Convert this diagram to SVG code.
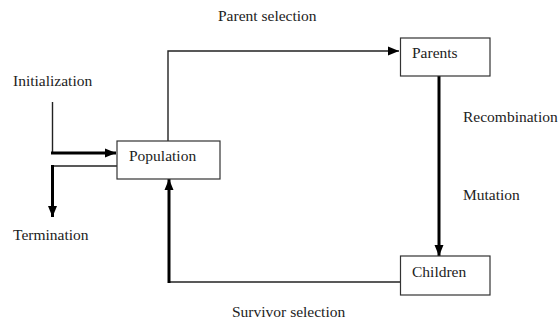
<svg xmlns="http://www.w3.org/2000/svg" width="559" height="322" viewBox="0 0 559 322">
<defs>
<style>
.box{fill:#fff;stroke:#333;stroke-width:1.2}
.lbl{font-family:"Liberation Serif","Times New Roman",serif;font-size:15.5px;fill:#222}
.thin{fill:none;stroke:#222;stroke-width:1.4}
.thick{fill:none;stroke:#000;stroke-width:3}
</style>
<marker id="ah" markerUnits="userSpaceOnUse" markerWidth="12" markerHeight="12" viewBox="0 0 12 12" refX="11" refY="6" orient="auto">
<path d="M0,1.5 L11,6 L0,10.5 Z" fill="#000"/>
</marker>
</defs>
<rect width="559" height="322" fill="#fff"/>
<g id="connectors">
<path class="thin" d="M168,141 V51 H399" marker-end="url(#ah)"/>
<path class="thin" d="M52.5,102 V153"/>
<path class="thick" d="M51,153 H116" marker-end="url(#ah)"/>
<path class="thin" d="M117,166 H52.5"/>
<path class="thick" d="M52.5,165 V217" marker-end="url(#ah)"/>
<path class="thick" d="M439,76 V256" marker-end="url(#ah)"/>
<path class="thin" d="M400,282 H169"/>
<path class="thick" d="M169,283 V179" marker-end="url(#ah)"/>
</g>
<g id="population">
<rect class="box" x="117" y="141" width="103" height="38"/>
<text class="lbl" x="129" y="161">Population</text>
</g>
<g id="parents">
<rect class="box" x="400.5" y="38" width="89.5" height="38"/>
<text class="lbl" x="412" y="58">Parents</text>
</g>
<g id="children">
<rect class="box" x="400.5" y="256" width="89.5" height="39"/>
<text class="lbl" x="412" y="277">Children</text>
</g>
<g id="labels">
<text class="lbl" x="218" y="21">Parent selection</text>
<text class="lbl" x="13" y="86">Initialization</text>
<text class="lbl" x="13" y="240">Termination</text>
<text class="lbl" x="463" y="122">Recombination</text>
<text class="lbl" x="463" y="200">Mutation</text>
<text class="lbl" x="232" y="317">Survivor selection</text>
</g>
</svg>
